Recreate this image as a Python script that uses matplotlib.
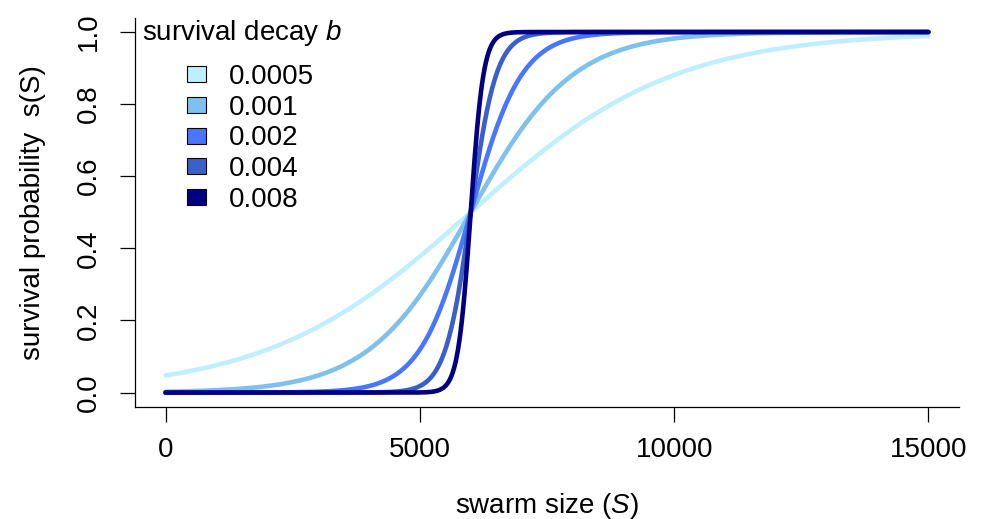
import numpy as np
import matplotlib
matplotlib.use("Agg")
import matplotlib.pyplot as plt
from matplotlib.patches import Patch

# Data: survival curves s(S) = 1/(1+exp(-b (S - S0)))
decay_b = [0.0005, 0.001, 0.002, 0.004, 0.008]
decay_labels = ["0.0005", "0.001", "0.002", "0.004", "0.008"]
midpoint_S0 = 6000
swarm_size = np.linspace(0, 15000, 601)
colors = ["#BFEFFF", "#7EC0EE", "#4876FF", "#3A5FCD", "#000080"]
x_ticks = [0, 5000, 10000, 15000]
y_ticks = [0.0, 0.2, 0.4, 0.6, 0.8, 1.0]

plt.rcParams['font.family'] = ['Liberation Sans', 'DejaVu Sans']
plt.rcParams['mathtext.fontset'] = 'custom'
plt.rcParams['mathtext.it'] = 'Liberation Sans:italic'
plt.rcParams['mathtext.rm'] = 'Liberation Sans'

fs = 20
fig = plt.figure(figsize=(9.83, 5.19), dpi=100)
ax = fig.add_axes([135/983, 1 - 407/519, (959-135)/983, (407-17.6)/519])

for b, c in zip(decay_b, colors):
    s = 1.0 / (1.0 + np.exp(-b * (swarm_size - midpoint_S0)))
    ax.plot(swarm_size, s, color=c, lw=3.3, solid_capstyle='round')

ax.set_xlim(-600, 15600)
ax.set_ylim(-0.04, 1.04)
ax.set_xticks(x_ticks)
ax.set_xticklabels([str(v) for v in x_ticks])
ax.set_yticks(y_ticks)
ax.set_yticklabels([f"{v:.1f}" for v in y_ticks], rotation=90, va='center')
ax.spines['top'].set_visible(False)
ax.spines['right'].set_visible(False)
for sp in ['left', 'bottom']:
    ax.spines[sp].set_linewidth(0.9)
ax.tick_params(axis='both', length=10.5, width=0.9, labelsize=fs, color='black')
ax.tick_params(axis='x', pad=11)
ax.tick_params(axis='y', pad=13)

ax.set_xlabel(r"swarm size ($S$)", fontsize=fs, labelpad=20)
ax.set_ylabel(r"survival probability  s(S)", fontsize=fs, labelpad=22)

ax.text(7/824, (407-33)/389.4, r"survival decay $b$", transform=ax.transAxes,
        fontsize=fs, ha='left', va='center')

handles = [Patch(facecolor=c, edgecolor='black', linewidth=0.8) for c in colors]
leg = ax.legend(handles, decay_labels, loc='upper left',
                bbox_to_anchor=((187-135)/824, (407-64)/389.4),
                frameon=False, fontsize=fs, borderpad=0, borderaxespad=0,
                handlelength=0.7, handleheight=0.5, handletextpad=0.8,
                labelspacing=0.17)

fig.savefig("out.png", dpi=100)
